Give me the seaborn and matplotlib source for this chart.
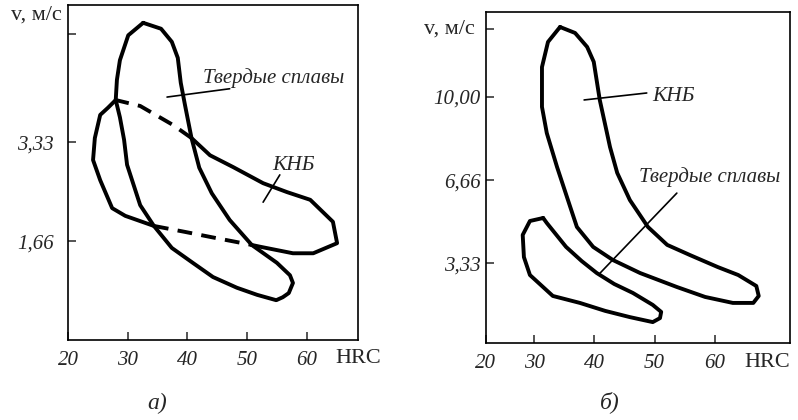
import matplotlib
matplotlib.use('Agg')
import matplotlib.pyplot as plt
import matplotlib.transforms as mtransforms
import seaborn as sns

# ---------------- data ----------------
# panel а) : Твердые сплавы region (closed outline)
ts_a_hrc = [32.6, 35.6, 37.4, 38.4, 38.9, 39.6, 40.7, 42.0, 44.1, 47.1, 50.8, 55.0,
            57.2, 57.7, 57.0, 56.0, 54.9, 51.7, 48.3, 44.3, 40.9, 37.4, 34.4, 32.1,
            29.9, 29.4, 28.7, 28.0, 28.2, 28.7, 30.1, 32.6]
ts_a_v = [5.34, 5.24, 5.02, 4.75, 4.33, 3.96, 3.40, 2.90, 2.47, 2.02, 1.60, 1.30,
          1.09, 0.96, 0.79, 0.72, 0.67, 0.76, 0.88, 1.06, 1.30, 1.55, 1.92, 2.27,
          2.95, 3.37, 3.75, 4.04, 4.38, 4.71, 5.13, 5.34]

# panel а) : КНБ region, solid and dashed parts
knb_a_left_hrc = [28.0, 26.7, 25.4, 24.5, 24.2, 25.4, 27.4, 29.6, 34.4]
knb_a_left_v = [4.04, 3.91, 3.79, 3.40, 3.03, 2.69, 2.22, 2.09, 1.92]
knb_a_right_hrc = [50.8, 52.2, 57.7, 61.1, 65.1, 64.4, 60.6, 56.7, 52.7, 47.7, 43.8, 40.7]
knb_a_right_v = [1.60, 1.57, 1.46, 1.46, 1.63, 1.99, 2.36, 2.49, 2.64, 2.91, 3.11, 3.40]
knb_a_low_hrc = [34.4, 39.6, 44.1, 50.8]
knb_a_low_v = [1.92, 1.82, 1.73, 1.60]
knb_a_top_hrc = [40.7, 37.6, 32.1, 28.0]
knb_a_top_v = [3.40, 3.62, 3.94, 4.04]

# panel б) : КНБ region
knb_b_hrc = [34.3, 36.8, 38.8, 39.9, 40.9, 42.1, 42.6, 43.8, 45.9, 48.9, 52.1, 55.9,
             60.5, 63.9, 66.9, 67.3, 66.4, 63.0, 58.4, 53.7, 47.6, 43.1, 39.8, 37.1,
             36.0, 33.8, 32.1, 31.3, 31.3, 32.3, 34.3]
knb_b_v = [12.81, 12.57, 12.01, 11.41, 9.88, 8.55, 7.99, 6.95, 5.86, 4.78, 4.06, 3.65,
           3.17, 2.85, 2.41, 2.01, 1.73, 1.73, 1.97, 2.37, 2.93, 3.45, 3.98, 4.78,
           5.58, 7.19, 8.55, 9.60, 11.20, 12.21, 12.81]

# panel б) : Твердые сплавы region
ts_b_hrc = [31.5, 29.3, 28.1, 28.3, 29.3, 33.1, 37.6, 41.8, 45.9, 49.7, 50.9, 51.1,
            49.7, 46.4, 43.3, 40.4, 37.9, 35.3, 32.1, 31.5]
ts_b_v = [5.14, 5.02, 4.46, 3.57, 2.85, 2.01, 1.73, 1.41, 1.16, 0.96, 1.12, 1.37,
          1.65, 2.13, 2.49, 2.93, 3.41, 3.98, 4.94, 5.14]

# tick values / labels
xticks_a = [20, 30, 40, 50, 60]
xticks_b = [22, 30, 40, 50, 60]
xlabels = ['20', '30', '40', '50', '60']
yticks_a = [1.66, 3.33, 5.15]
ylabels_a = ['1,66', '3,33', '']
yticks_b = [3.33, 6.66, 10.0, 12.73]
ylabels_b = ['3,33', '6,66', '10,00', '']

# ---------------- drawing ----------------
sns.set_style('ticks')
plt.rcParams['font.family'] = ['Liberation Serif', 'DejaVu Serif']

LW = 2.8
DASH = (0, (3.8, 2.4))

fig = plt.figure(figsize=(7.98, 4.2), dpi=100)
ax_a = fig.add_axes([0.0852, 0.1905, 0.3634, 0.7976])
ax_b = fig.add_axes([0.609, 0.1833, 0.381, 0.788])


def outline(ax, x, y, dashed=False):
    sns.lineplot(x=x, y=y, sort=False, estimator=None, color='black', lw=LW,
                 linestyle=DASH if dashed else '-', ax=ax)


def leader(ax, x, y):
    ax.plot(x, y, color='black', lw=1.2)


# panel а)
outline(ax_a, ts_a_hrc, ts_a_v)
outline(ax_a, knb_a_left_hrc, knb_a_left_v)
outline(ax_a, knb_a_right_hrc, knb_a_right_v)
outline(ax_a, knb_a_low_hrc, knb_a_low_v, dashed=True)
outline(ax_a, knb_a_top_hrc, knb_a_top_v, dashed=True)
leader(ax_a, [36.6, 47.1], [4.09, 4.23])
leader(ax_a, [52.7, 55.5], [2.32, 2.78])
ax_a.text(54.5, 4.41, 'Твердые сплавы', style='italic', fontsize=15,
          ha='center', va='center')
ax_a.text(57.7, 2.93, 'КНБ', style='italic', fontsize=15.5, ha='center', va='center')
ax_a.set_xlim(20, 68.6)
ax_a.set_ylim(0, 5.64)

# panel б)
outline(ax_b, knb_b_hrc, knb_b_v)
outline(ax_b, ts_b_hrc, ts_b_v)
leader(ax_b, [38.3, 48.7], [9.88, 10.16])
leader(ax_b, [40.8, 53.7], [2.89, 6.14])
ax_b.text(53.2, 10.0, 'КНБ', style='italic', fontsize=15.5, ha='center', va='center')
ax_b.text(59.2, 6.79, 'Твердые сплавы', style='italic', fontsize=15,
          ha='center', va='center')
ax_b.set_xlim(22, 72.5)
ax_b.set_ylim(0.12, 13.41)

for ax, xt, yt, yl, ypad in [(ax_a, xticks_a, yticks_a, ylabels_a, 10),
                             (ax_b, xticks_b, yticks_b, ylabels_b, 4)]:
    ax.set_xticks(xt)
    ax.set_xticklabels(xlabels)
    ax.set_yticks(yt)
    ax.set_yticklabels(yl)
    ax.set_xlabel('')
    ax.set_ylabel('')
    ax.tick_params(direction='in', length=6, width=1.1, labelsize=15,
                   top=False, right=False)
    ax.tick_params(axis='x', pad=8)
    ax.tick_params(axis='y', pad=ypad)
    for lab in ax.get_xticklabels() + ax.get_yticklabels():
        lab.set_style('italic')
    for sp in ax.spines.values():
        sp.set_visible(True)
        sp.set_linewidth(1.2)
        sp.set_color('black')

ax_a.text(68.6, -0.055, 'HRC', transform=mtransforms.blended_transform_factory(
    ax_a.transData, ax_a.transAxes), fontsize=16, ha='center', va='center')
ax_b.text(68.8, -0.06, 'HRC', transform=mtransforms.blended_transform_factory(
    ax_b.transData, ax_b.transAxes), fontsize=16, ha='center', va='center')

fig.text(62 / 798, 1 - 15 / 420, 'v, м/с', fontsize=16, ha='right', va='center')
fig.text(475 / 798, 1 - 29 / 420, 'v, м/с', fontsize=16, ha='right', va='center')
fig.text(157 / 798, 1 - 403 / 420, 'а)', fontsize=17, style='italic',
         ha='center', va='center')
fig.text(610 / 798, 1 - 402 / 420, 'б)', fontsize=17, style='italic',
         ha='center', va='center')

fig.savefig('out.png', dpi=100)
